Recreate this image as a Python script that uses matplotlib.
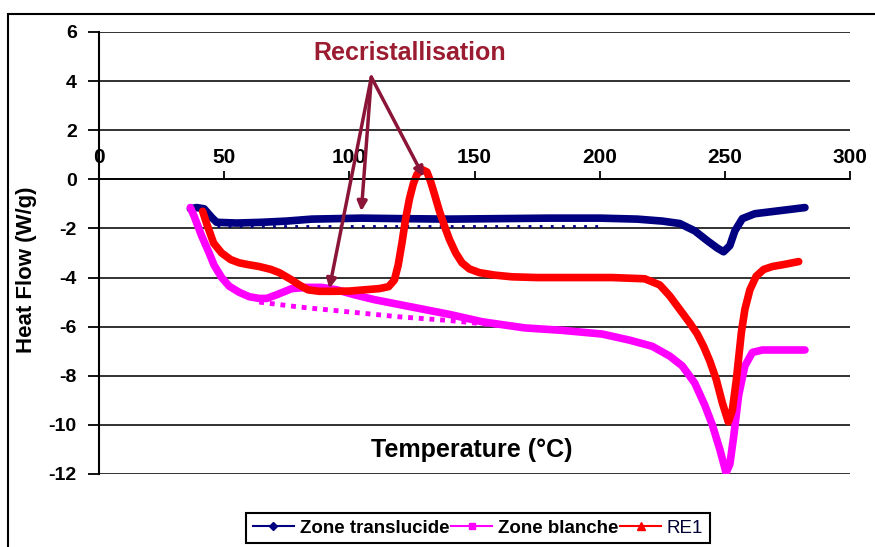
import matplotlib
matplotlib.use('Agg')
import matplotlib.pyplot as plt
from matplotlib.patches import Rectangle
from matplotlib.lines import Line2D

plt.rcParams['font.family'] = ['Liberation Sans', 'DejaVu Sans']
plt.rcParams['axes.unicode_minus'] = False

# Zone translucide (blue)
t_blue = [36.5, 39, 42, 45, 47, 55, 65, 75, 85, 95, 105, 120, 140, 160, 180,
          200, 215, 225, 232, 238, 243, 247, 249.5, 252, 254, 257, 262, 270, 282]
hf_blue = [-1.2, -1.15, -1.2, -1.55, -1.75, -1.78, -1.75, -1.7, -1.62, -1.6,
           -1.58, -1.6, -1.62, -1.6, -1.58, -1.58, -1.62, -1.7, -1.8, -2.1,
           -2.5, -2.8, -2.95, -2.7, -2.1, -1.6, -1.4, -1.3, -1.15]
t_blue_dots = [47, 200]
hf_blue_dots = [-1.9, -1.9]

# Zone blanche (magenta)
t_mag = [36.5, 38, 41, 44, 46, 49, 52, 56, 60, 64, 67, 71, 77, 83, 89, 95, 102,
         110, 120, 130, 140, 153, 170, 185, 201, 212, 221, 228, 233, 238, 242,
         245, 248, 250.5, 252, 253.5, 255.5, 258, 261, 265, 272, 282]
hf_mag = [-1.15, -1.5, -2.3, -3.0, -3.5, -4.0, -4.35, -4.6, -4.78, -4.85,
          -4.85, -4.7, -4.45, -4.4, -4.4, -4.5, -4.7, -4.9, -5.1, -5.3, -5.5,
          -5.8, -6.05, -6.15, -6.3, -6.55, -6.8, -7.2, -7.6, -8.3, -9.2, -10.0,
          -11.0, -11.95, -11.6, -10.5, -8.8, -7.6, -7.05, -6.95, -6.95, -6.95]
t_mag_dots = [64, 80, 100, 120, 140, 160]
hf_mag_dots = [-5.0, -5.2, -5.4, -5.6, -5.75, -5.95]

# RE1 (red)
t_re1 = [41.4, 43, 45.8, 49, 52.6, 56, 59.4, 64, 68.7, 72, 76.7, 80, 83.5, 88,
         92.8, 100, 106, 112, 115.7, 118, 119.5, 121, 122.5, 124, 125.5, 127,
         129, 131, 132.5, 134, 136, 138, 140, 142.5, 145, 148, 152, 158, 165,
         175, 190, 205, 218, 224, 228, 232, 236, 239, 241.5, 244, 246.6, 249,
         251.4, 253, 254.6, 255.6, 256.6, 258, 260, 262.5, 265.5, 269, 273.5,
         279.5]
hf_re1 = [-1.3, -1.8, -2.6, -3.0, -3.27, -3.4, -3.47, -3.55, -3.67, -3.8,
          -4.08, -4.3, -4.5, -4.56, -4.56, -4.55, -4.5, -4.45, -4.37, -4.1,
          -3.5, -2.6, -1.6, -0.8, -0.2, 0.2, 0.4, 0.3, -0.1, -0.6, -1.3, -1.9,
          -2.45, -3.0, -3.4, -3.65, -3.8, -3.9, -3.97, -4.0, -4.0, -4.0, -4.05,
          -4.3, -4.75, -5.3, -5.85, -6.3, -6.8, -7.4, -8.16, -9.1, -9.88, -9.4,
          -8.16, -7.2, -6.24, -5.3, -4.5, -3.95, -3.67, -3.55, -3.47, -3.35]

# annotation
label_pt = (108.8, 4.16)
arrow_targets = [(92, -4.45), (104.8, -1.3), (129.7, 0.1)]

W, H = 875, 547
fig = plt.figure(figsize=(W / 100, H / 100), dpi=100)
fig.patches.append(Rectangle((8 / W, -0.1), 1.2, 1 - 14 / H + 0.1,
                             transform=fig.transFigure, fill=False,
                             edgecolor='black', linewidth=1.5))

ax = fig.add_axes([99 / W, 1 - 474 / H, (850 - 99) / W, (474 - 32) / H])
ax.set_xlim(0, 300)
ax.set_ylim(-12, 6)

ax.plot(t_blue_dots, hf_blue_dots, color='#000080', lw=2, ls=(0, (1, 3)))
ax.plot(t_mag_dots, hf_mag_dots, color='#ff00ff', lw=3.5, ls=(0, (1, 1.2)))
ax.plot(t_blue, hf_blue, color='#000080', lw=5.5, solid_capstyle='round')
ax.plot(t_mag, hf_mag, color='#ff00ff', lw=5.5, solid_capstyle='round')
ax.plot(t_re1, hf_re1, color='#ff0000', lw=5.5, solid_capstyle='round')

for tgt in arrow_targets:
    ax.annotate('', xy=tgt, xytext=label_pt,
                arrowprops=dict(arrowstyle='-|>', color='#8b1538', lw=2.5,
                                mutation_scale=14, shrinkA=0, shrinkB=0))
ax.text(124.3, 5.14, 'Recristallisation', color='#9b1b30', fontsize=18,
        fontweight='bold', ha='center', va='center')

ax.set_yticks(range(-12, 7, 2))
ax.set_xticks(range(0, 301, 50))
ax.grid(axis='y', color='#222222', lw=1.3)
ax.set_axisbelow(True)
for s in ['right', 'bottom']:
    ax.spines[s].set_visible(False)
ax.spines['top'].set_position(('data', 0))
ax.spines['top'].set_linewidth(1.3)
ax.spines['left'].set_linewidth(1.5)
ax.xaxis.set_ticks_position('top')
ax.tick_params(axis='x', direction='out', length=6, width=1.3, pad=3,
               labelsize=15)
ax.tick_params(axis='y', direction='out', length=8, width=1.3, pad=8,
               labelsize=14)
for lab in ax.get_xticklabels() + ax.get_yticklabels():
    lab.set_fontweight('bold')

fig.text(472 / W, 1 - 450 / H, 'Temperature (°C)', fontsize=18,
         fontweight='bold', ha='center', va='center')
fig.text(27 / W, 1 - 270 / H, 'Heat Flow (W/g)', fontsize=16,
         fontweight='bold', ha='center', va='center', rotation=90)

h1 = Line2D([], [], color='#000080', marker='D', markersize=4, lw=1.5)
h2 = Line2D([], [], color='#ff00ff', marker='s', markersize=5, lw=1.5)
h3 = Line2D([], [], color='#ff0000', marker='^', markersize=6, lw=1.5)
leg = fig.legend([h1, h2, h3], ['Zone translucide', 'Zone blanche', 'RE1'],
                 loc='center', bbox_to_anchor=(478 / W, 1 - 528 / H), ncol=3,
                 fancybox=False, edgecolor='black', framealpha=1,
                 handlelength=2.2, handletextpad=0.3, columnspacing=0.1,
                 borderpad=0.35, prop={'size': 13.5, 'weight': 'bold'})
leg.get_frame().set_linewidth(1.5)
leg.get_texts()[2].set_fontweight('normal')
leg.get_texts()[2].set_color('#000033')

fig.savefig('out.png', dpi=100)
